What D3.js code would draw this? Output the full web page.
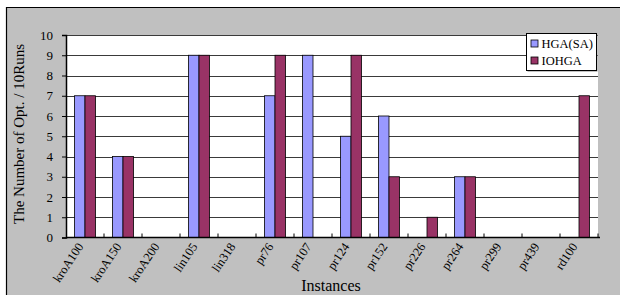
<!DOCTYPE html>
<html>
<head>
<meta charset="utf-8">
<script src="https://cdn.jsdelivr.net/npm/d3@7"></script>
<style>
  html, body { margin: 0; padding: 0; background: #fff; }
  text { font-family: "Liberation Serif", "Times New Roman", serif; fill: #000; }
</style>
</head>
<body>
<div class="forSvg"></div>
<script>
// -DATA-
const instances = ["kroA100", "kroA150", "kroA200", "lin105", "lin318", "pr76", "pr107",
                   "pr124", "pr152", "pr226", "pr264", "pr299", "pr439", "rd100"];
const hgaSA = [7, 4, 0, 9, 0, 7, 9, 5, 6, 0, 3, 0, 0, 0];
const iohga = [7, 4, 0, 9, 0, 9, 0, 9, 3, 1, 3, 0, 0, 7];
const seriesNames = ["HGA(SA)", "IOHGA"];
const yTicks = [0, 1, 2, 3, 4, 5, 6, 7, 8, 9, 10];

// -SIZES-
const svg_w = 620;
const svg_h = 295;
const plot = { left: 66, right: 598, top: 35, bottom: 237.5 };

// colors (classic excel palette)
const blue = "#9999ff";
const plum = "#993366";
const bg = "#c0c0c0";

const svg = d3.select(".forSvg")
    .append("svg")
    .attr("width", svg_w)
    .attr("height", svg_h);

// gray chart area with black top + left border
svg.append("rect")
    .attr("x", 6).attr("y", 7)
    .attr("width", svg_w - 6).attr("height", svg_h - 7)
    .attr("fill", bg);
svg.append("path")
    .attr("d", `M6.5,${svg_h} V7.5 H${svg_w}`)
    .attr("fill", "none")
    .attr("stroke", "#000")
    .attr("stroke-width", 1.2);

// plot area
svg.append("rect")
    .attr("x", plot.left).attr("y", plot.top)
    .attr("width", plot.right - plot.left).attr("height", plot.bottom - plot.top)
    .attr("fill", "#fff");

// -SCALES-
const xScale = d3.scaleBand()
    .domain(instances)
    .range([plot.left, plot.right]);

const xInner = d3.scaleBand()
    .domain(seriesNames)
    .range([0, xScale.bandwidth()])
    .paddingOuter(0.81);

const yScale = d3.scaleLinear()
    .domain([0, 10])
    .range([plot.bottom, plot.top]);

// gridlines
svg.append("g")
    .selectAll("line")
    .data(yTicks.filter(d => d > 0))
    .enter()
    .append("line")
    .attr("x1", plot.left).attr("x2", plot.right)
    .attr("y1", d => Math.round(yScale(d)) + 0.5)
    .attr("y2", d => Math.round(yScale(d)) + 0.5)
    .attr("stroke", "#3a3a3a")
    .attr("stroke-width", 1);

// -BARS-
const rows = instances.map((name, i) => ({ name: name, vals: [hgaSA[i], iohga[i]] }));
const colors = [blue, plum];

const groups = svg.selectAll(".grp")
    .data(rows)
    .enter()
    .append("g")
    .attr("class", "grp")
    .attr("transform", d => "translate(" + xScale(d.name) + ",0)");

groups.selectAll("rect")
    .data(d => d.vals.map((v, k) => ({ key: seriesNames[k], v: v, k: k })).filter(d => d.v > 0))
    .enter()
    .append("rect")
    .attr("x", d => xInner(d.key))
    .attr("y", d => yScale(d.v))
    .attr("width", xInner.bandwidth())
    .attr("height", d => yScale(0) - yScale(d.v))
    .attr("fill", d => colors[d.k])
    .attr("stroke", "#000")
    .attr("stroke-width", 0.8);

// -AXES-
const yAxis = d3.axisLeft(yScale).tickValues(yTicks).tickSize(4).tickPadding(9);
const gy = svg.append("g")
    .attr("transform", "translate(" + plot.left + ",0)")
    .call(yAxis);
gy.select(".domain").attr("stroke", "#000").attr("stroke-width", 1.5);
gy.selectAll("text").attr("font-size", 13).style("font-family", "Liberation Serif, serif");

// x axis line + tick marks pointing up at category boundaries
const gx = svg.append("g")
    .attr("transform", "translate(0," + plot.bottom + ")");
gx.append("line")
    .attr("x1", plot.left).attr("x2", plot.right + 2)
    .attr("stroke", "#000").attr("stroke-width", 1.5);
gx.selectAll(".tk")
    .data(instances.slice(1).concat(["end"]))
    .enter()
    .append("line")
    .attr("class", "tk")
    .attr("x1", (d, i) => plot.left + xScale.step() * (i + 1))
    .attr("x2", (d, i) => plot.left + xScale.step() * (i + 1))
    .attr("y1", 0).attr("y2", -4)
    .attr("stroke", "#000");

// rotated category labels
gx.selectAll(".lbl")
    .data(instances)
    .enter()
    .append("text")
    .attr("class", "lbl")
    .attr("text-anchor", "end")
    .attr("font-size", 12.5)
    .attr("transform", d => "translate(" + (xScale(d) + xScale.bandwidth() / 2 - 1) + ",9) rotate(-56)")
    .text(d => d);

// -TITLES-
svg.append("text")
    .attr("x", 331)
    .attr("y", 291)
    .attr("text-anchor", "middle")
    .attr("font-size", 16)
    .text("Instances");

svg.append("text")
    .attr("transform", "translate(24,134) rotate(-90)")
    .attr("text-anchor", "middle")
    .attr("font-size", 15)
    .text("The Number of Opt. / 10Runs");

// -LEGEND-
const legend = svg.append("g")
    .attr("transform", "translate(526,33)");
legend.append("rect")
    .attr("x", 1.5).attr("y", 1.5)
    .attr("width", 70).attr("height", 37)
    .attr("fill", "#888");
legend.append("rect")
    .attr("x", 0.5).attr("y", 0.5)
    .attr("width", 70).attr("height", 37)
    .attr("fill", "#fff")
    .attr("stroke", "#000");
seriesNames.forEach((name, k) => {
    legend.append("rect")
        .attr("x", 5).attr("y", 7 + k * 17)
        .attr("width", 7).attr("height", 7)
        .attr("fill", colors[k])
        .attr("stroke", "#000")
        .attr("stroke-width", 0.8);
    legend.append("text")
        .attr("x", 15.5).attr("y", 15 + k * 17)
        .attr("font-size", 12.5)
        .text(name);
});
</script>
</body>
</html>
